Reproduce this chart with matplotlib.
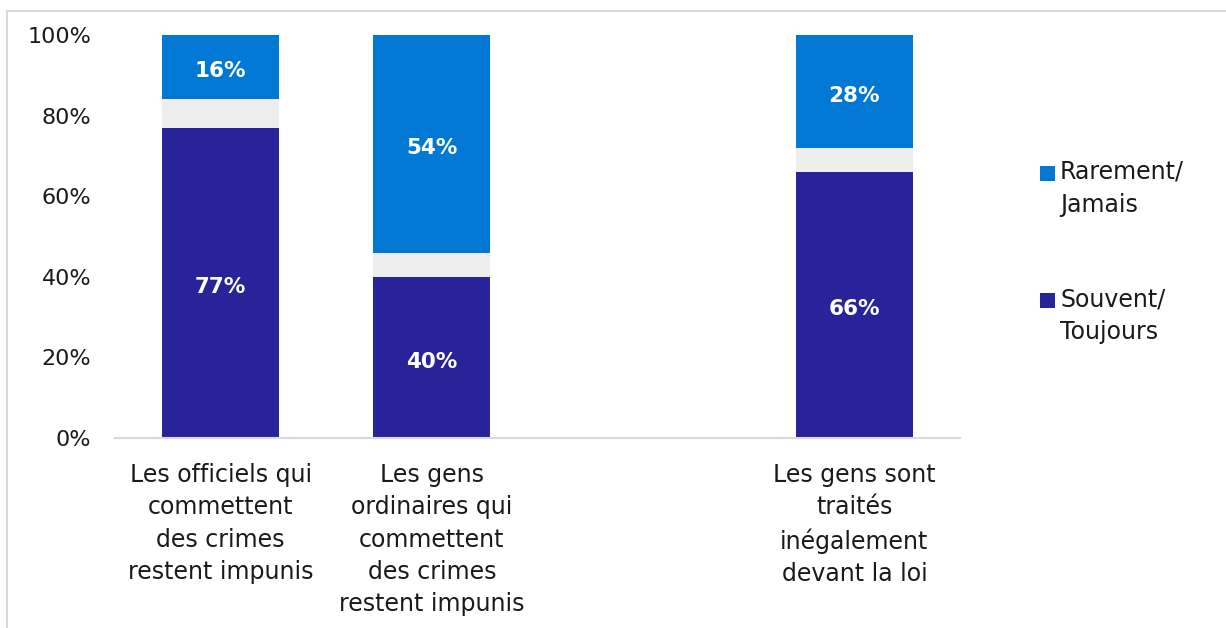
import matplotlib
matplotlib.use("Agg")
import matplotlib.pyplot as plt
from matplotlib.lines import Line2D
from matplotlib.patches import Rectangle

categories = ["Les officiels qui\ncommettent\ndes crimes\nrestent impunis",
              "Les gens\nordinaires qui\ncommettent\ndes crimes\nrestent impunis",
              "",
              "Les gens sont\ntraités\ninégalement\ndevant la loi"]
souvent = [77, 40, None, 66]
rarement = [16, 54, None, 28]
series_names = ["Souvent/\nToujours", "Rarement/\nJamais"]
yticks = [0, 20, 40, 60, 80, 100]

C_DARK = "#29239A"
C_BLUE = "#0078D4"
C_GRAY = "#EDEDED"
C_TEXT = "#1a1a1a"

W, H = 1226, 628
plt.rcParams['font.family'] = ['DejaVu Sans']
fig = plt.figure(figsize=(W/100, H/100), dpi=100)
ax = fig.add_axes([115/W, 1-438/H, (960-115)/W, (438-35)/H])

w = 0.555
for i, (s, r) in enumerate(zip(souvent, rarement)):
    if s is None:
        continue
    g = 100 - s - r
    ax.bar(i, s, width=w, color=C_DARK, linewidth=0)
    ax.bar(i, g, width=w, bottom=s, color=C_GRAY, linewidth=0)
    ax.bar(i, r, width=w, bottom=s+g, color=C_BLUE, linewidth=0)
    ax.annotate(f"{s}%", (i, s/2), xytext=(0, -3), textcoords="offset points",
                ha="center", va="center", color="white",
                fontsize=15.5, fontweight="bold")
    ax.annotate(f"{r}%", (i, s+g+r/2), xytext=(0, -3), textcoords="offset points",
                ha="center", va="center", color="white",
                fontsize=15.5, fontweight="bold")

ax.set_xlim(-0.5, 3.5)
ax.set_ylim(0, 100)
ax.set_yticks(yticks)
ax.set_yticklabels([f"{v}%" for v in yticks], fontsize=16, color=C_TEXT)
ax.set_xticks(range(len(categories)))
ax.set_xticklabels(categories, fontsize=17, color=C_TEXT, linespacing=1.44)
ax.tick_params(axis="both", length=0)
ax.tick_params(axis="y", pad=17)
ax.tick_params(axis="x", pad=18)
for sp in ["top", "right", "left"]:
    ax.spines[sp].set_visible(False)
ax.spines["bottom"].set_color("#D9D9D9")
ax.spines["bottom"].set_linewidth(1.5)

# legend (manual, handle aligned with first line)
leg_items = [(C_BLUE, series_names[1], 173), (C_DARK, series_names[0], 300)]
for col, label, yc in leg_items:
    fig.add_artist(Rectangle((1040/W, 1-(yc+8)/H), 15/W, 15/H,
                             transform=fig.transFigure, color=col, linewidth=0))
    fig.text(1060/W, 1-(yc-13)/H, label, ha="left", va="top", fontsize=17,
             color=C_TEXT, linespacing=1.47)

# outer frame
fig.add_artist(Line2D([7/W, 1], [1-11/H, 1-11/H], transform=fig.transFigure,
                      color="#D9D9D9", linewidth=1.5))
fig.add_artist(Line2D([7/W, 7/W], [0, 1-11/H], transform=fig.transFigure,
                      color="#D9D9D9", linewidth=1.5))

fig.savefig("out.png", dpi=100)
